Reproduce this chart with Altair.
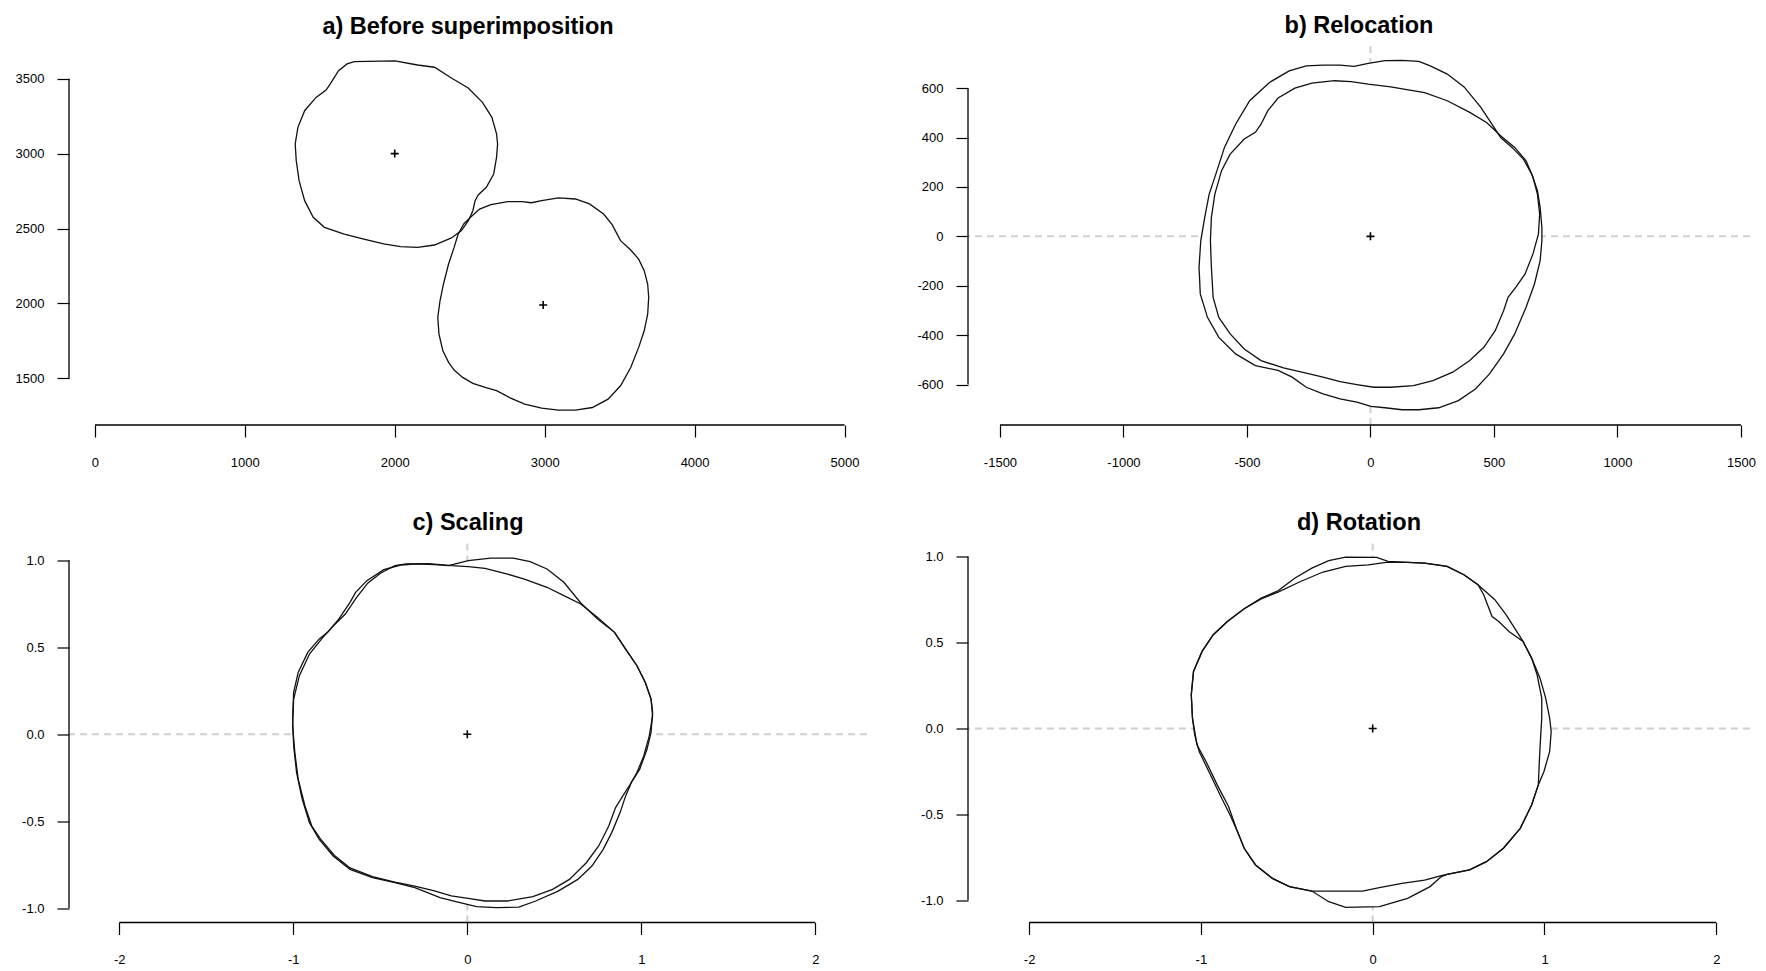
import altair as alt
import pandas as pd

FONT = "Liberation Sans"
W_L, W_R, H = 798, 782, 379

# ---------------- panel a: before superimposition ----------------
A1_X = [1730, 2001, 2152, 2265, 2378, 2490, 2585, 2648, 2679, 2686, 2679, 2660, 2611, 2558, 2536, 2521, 2491, 2445,
        2378, 2265, 2152, 2039, 1926, 1794, 1663, 1531, 1456, 1399, 1362, 1343, 1336, 1354, 1399, 1475, 1542, 1569,
        1625, 1682]
A1_Y = [3613, 3618, 3591, 3576, 3504, 3438, 3342, 3242, 3131, 3064, 2975, 2864, 2775, 2726, 2686, 2619, 2552, 2486,
        2437, 2390, 2374, 2379, 2397, 2430, 2463, 2508, 2575, 2686, 2819, 2953, 3064, 3175, 3286, 3375, 3424, 3464,
        3553, 3598]
A2_X = [2460, 2509, 2566, 2641, 2754, 2848, 2912, 2980, 3092, 3205, 3299, 3393, 3450, 3506, 3574, 3627, 3664, 3687,
        3694, 3687, 3664, 3627, 3574, 3506, 3423, 3318, 3205, 3092, 2980, 2867, 2773, 2679, 2603, 2521, 2453, 2396,
        2359, 2321, 2295, 2287, 2302, 2325, 2359, 2396, 2423]
A2_Y = [2530, 2579, 2630, 2659, 2679, 2679, 2672, 2686, 2704, 2697, 2664, 2597, 2526, 2419, 2357, 2296, 2219, 2130,
        2041, 1929, 1818, 1707, 1573, 1451, 1362, 1306, 1289, 1289, 1302, 1329, 1369, 1418, 1440, 1467, 1507, 1556,
        1607, 1685, 1796, 1907, 2018, 2130, 2263, 2374, 2463]
A_CX = [2000, 2990]
A_CY = [3000, 1990]
A_XTICKS = [0, 1000, 2000, 3000, 4000, 5000]
A_YTICKS = [1500, 2000, 2500, 3000, 3500]

# ---------------- panel b: relocation ----------------
B1_X = [-66, -9, 59, 128, 196, 242, 311, 379, 447, 505, 527, 573, 619, 653, 676, 687, 694, 694, 687, 664, 630, 584,
        539, 482, 425, 356, 276, 196, 128, 59, 2, -55, -123, -192, -260, -317, -374, -466, -546, -614, -660, -689,
        -694, -687, -671, -653, -626, -591, -546, -489, -409, -329, -260, -192, -123]
B1_Y = [688, 700, 711, 712, 708, 690, 657, 605, 522, 434, 400, 360, 313, 252, 185, 117, 36, -18, -98, -193, -287,
        -395, -476, -557, -618, -665, -694, -702, -702, -694, -688, -671, -658, -638, -611, -570, -543, -523, -476,
        -409, -328, -233, -125, -18, 77, 171, 252, 360, 454, 549, 623, 670, 690, 693, 693]
B2_X = [-146, -78, -9, 82, 219, 311, 402, 470, 527, 584, 630, 658, 676, 685, 680, 658, 626, 589, 557, 539, 505, 459,
        402, 333, 253, 174, 82, 14, -55, -123, -192, -260, -352, -443, -511, -568, -614, -637, -644, -648, -644,
        -630, -603, -568, -511, -466, -443, -416, -374, -306, -237]
B2_Y = [630, 626, 616, 605, 582, 549, 502, 461, 407, 360, 306, 239, 171, 90, 9, -71, -152, -206, -247, -301, -382,
        -449, -503, -550, -584, -604, -611, -611, -600, -588, -570, -554, -533, -503, -456, -395, -328, -247, -125,
        -18, 77, 171, 266, 333, 394, 421, 454, 508, 560, 600, 620]
B_XTICKS = [-1500, -1000, -500, 0, 500, 1000, 1500]
B_YTICKS = [-600, -400, -200, 0, 200, 400, 600]

# ---------------- panel c: scaling ----------------
C1_X = [-0.108, 0.005, 0.134, 0.264, 0.361, 0.458, 0.555, 0.652, 0.749, 0.846, 0.910, 0.975, 1.023, 1.056, 1.065,
        1.056, 1.033, 0.991, 0.943, 0.910, 0.878, 0.830, 0.781, 0.716, 0.635, 0.522, 0.393, 0.296, 0.167, 0.053,
        -0.060, -0.157, -0.254, -0.302, -0.416, -0.545, -0.674, -0.771, -0.852, -0.907, -0.949, -0.981, -0.998,
        -1.004, -0.998, -0.972, -0.917, -0.852, -0.803, -0.739, -0.674, -0.642, -0.577, -0.480, -0.383, -0.286,
        -0.189]
C1_Y = [0.969, 0.998, 1.013, 1.013, 0.992, 0.950, 0.874, 0.755, 0.663, 0.586, 0.490, 0.394, 0.298, 0.202, 0.126,
        0.011, -0.085, -0.200, -0.277, -0.354, -0.450, -0.565, -0.661, -0.757, -0.834, -0.901, -0.958, -0.993,
        -0.996, -0.990, -0.963, -0.938, -0.900, -0.881, -0.852, -0.824, -0.776, -0.699, -0.603, -0.508, -0.373,
        -0.220, -0.066, 0.087, 0.241, 0.356, 0.471, 0.547, 0.586, 0.662, 0.758, 0.816, 0.883, 0.946, 0.973, 0.979,
        0.975]
C2_X = [-0.416, -0.351, -0.222, -0.092, 0.005, 0.102, 0.231, 0.328, 0.458, 0.555, 0.652, 0.749, 0.846, 0.910, 0.975,
        1.023, 1.056, 1.065, 1.046, 1.014, 0.975, 0.936, 0.894, 0.852, 0.813, 0.755, 0.684, 0.587, 0.490, 0.377,
        0.231, 0.102, 0.005, -0.092, -0.189, -0.302, -0.416, -0.545, -0.674, -0.765, -0.843, -0.894, -0.933,
        -0.972, -0.991, -1.004, -0.998, -0.965, -0.907, -0.830, -0.765, -0.701, -0.636, -0.571, -0.497]
C2_Y = [0.969, 0.979, 0.981, 0.969, 0.964, 0.954, 0.921, 0.892, 0.845, 0.797, 0.749, 0.672, 0.586, 0.490, 0.394,
        0.298, 0.202, 0.106, -0.009, -0.124, -0.220, -0.287, -0.354, -0.421, -0.527, -0.642, -0.738, -0.834,
        -0.891, -0.933, -0.958, -0.958, -0.943, -0.929, -0.900, -0.872, -0.849, -0.818, -0.768, -0.695, -0.603,
        -0.527, -0.412, -0.258, -0.105, 0.049, 0.202, 0.337, 0.461, 0.557, 0.628, 0.691, 0.787, 0.870, 0.927]
C_XTICKS = [-2, -1, 0, 1, 2]
C_YTICKS = [-1.0, -0.5, 0.0, 0.5, 1.0]

# ---------------- panel d: rotation ----------------
D1_X = [-0.551, -0.452, -0.354, -0.256, -0.157, 0.023, 0.089, 0.203, 0.302, 0.433, 0.531, 0.613, 0.646, 0.695,
        0.734, 0.793, 0.875, 0.925, 0.957, 0.984, 0.984, 0.977, 0.970, 0.964, 0.925, 0.859, 0.761, 0.662, 0.564,
        0.433, 0.400, 0.302, 0.170, 0.039, -0.059, -0.354, -0.485, -0.584, -0.682, -0.748, -0.787, -0.830, -0.879,
        -0.944, -1.010, -1.036, -1.049, -1.056, -1.043, -0.993, -0.928, -0.846, -0.748, -0.649]
D1_Y = [0.802, 0.876, 0.934, 0.977, 0.998, 0.996, 0.973, 0.967, 0.963, 0.944, 0.895, 0.837, 0.779, 0.652, 0.623,
        0.565, 0.507, 0.410, 0.313, 0.177, 0.060, -0.056, -0.192, -0.328, -0.445, -0.581, -0.697, -0.775, -0.823,
        -0.849, -0.856, -0.882, -0.901, -0.926, -0.946, -0.946, -0.920, -0.872, -0.794, -0.697, -0.600, -0.503,
        -0.406, -0.270, -0.134, -0.037, 0.060, 0.196, 0.332, 0.449, 0.546, 0.623, 0.697, 0.759]
D2_X = [-0.551, -0.420, -0.289, -0.157, -0.026, 0.089, 0.203, 0.302, 0.433, 0.531, 0.613, 0.711, 0.777, 0.826,
        0.875, 0.925, 0.974, 1.007, 1.030, 1.039, 1.030, 0.997, 0.964, 0.925, 0.859, 0.761, 0.662, 0.564, 0.433,
        0.400, 0.334, 0.203, 0.039, -0.157, -0.256, -0.354, -0.485, -0.584, -0.682, -0.748, -0.787, -0.839, -0.905,
        -0.970, -1.023, -1.049, -1.056, -1.043, -0.993, -0.928, -0.846, -0.748, -0.649]
D2_Y = [0.794, 0.856, 0.911, 0.944, 0.953, 0.969, 0.967, 0.963, 0.944, 0.895, 0.837, 0.750, 0.662, 0.584, 0.507,
        0.410, 0.293, 0.177, 0.060, -0.017, -0.134, -0.250, -0.328, -0.445, -0.581, -0.697, -0.775, -0.823, -0.849,
        -0.862, -0.920, -0.988, -1.037, -1.041, -1.008, -0.946, -0.920, -0.872, -0.794, -0.697, -0.600, -0.454,
        -0.328, -0.192, -0.095, 0.060, 0.196, 0.332, 0.449, 0.546, 0.623, 0.697, 0.755]
D_XTICKS = [-2, -1, 0, 1, 2]
D_YTICKS = [-1.0, -0.5, 0.0, 0.5, 1.0]

# scale domains (data units visible in each plot region)
A_XDOM, A_YDOM = [-172.8, 5150.0], [1189.3, 3717.7]
B_XDOM, B_YDOM = [-1629.4, 1536.6], [-763.8, 770.6]
C_XDOM, C_YDOM = [-2.289, 2.297], [-1.0816, 1.0966]
D_XDOM, D_YDOM = [-2.3556, 2.1962], [-1.129, 1.077]


def lbl(fmt):
    return f"datum.value < 0 ? '-' + format(-datum.value, '{fmt}') : format(datum.value, '{fmt}')"


def panel(title, shapes, centers, xdom, ydom, xticks, yticks, fx, fy, dashed, width):
    rows = []
    for name, xs, ys in shapes:
        for i, (a, b) in enumerate(zip(xs, ys)):
            rows.append({"shape": name, "i": i, "x": a, "y": b})
    df = pd.DataFrame(rows)
    cdf = pd.DataFrame({"x": centers[0], "y": centers[1]})

    xs = alt.Scale(domain=xdom, nice=False, zero=False)
    ys = alt.Scale(domain=ydom, nice=False, zero=False)
    xax = alt.Axis(values=xticks, labelExpr=lbl(fx), domain=False, grid=False, tickSize=12, tickColor="black",
                   tickWidth=1.2, labelPadding=29, labelBaseline="alphabetic", labelFont=FONT, labelFontSize=13,
                   labelColor="black", labelFlush=False, labelOverlap=False, labelBound=False, title=None)
    yax = alt.Axis(values=yticks, labelExpr=lbl(fy), domain=False, grid=False, tickSize=12, tickColor="black",
                   tickWidth=1.2, labelPadding=13, labelFont=FONT, labelFontSize=13, labelColor="black",
                   labelFlush=False, labelOverlap=False, labelBound=False, title=None)

    def X(f):
        return alt.X(f, type="quantitative", scale=xs, axis=xax, title=None)

    def Y(f):
        return alt.Y(f, type="quantitative", scale=ys, axis=yax, title=None)

    layers = []
    if dashed:
        zdf = pd.DataFrame({"z": [0]})
        layers.append(alt.Chart(zdf).mark_rule(strokeDash=[7, 5], color="#d0d0d0", strokeWidth=2).encode(x=X("z")))
        layers.append(alt.Chart(zdf).mark_rule(strokeDash=[7, 5], color="#d0d0d0", strokeWidth=2).encode(y=Y("z")))

    layers.append(alt.Chart(df).mark_line(interpolate="linear-closed", fill="white", strokeOpacity=0).encode(
        x=X("x"), y=Y("y"), detail="shape:N", order="i:Q"))
    layers.append(alt.Chart(df).mark_line(interpolate="linear-closed", color="#111111", strokeWidth=1.3).encode(
        x=X("x"), y=Y("y"), detail="shape:N", order="i:Q"))

    layers.append(alt.Chart(cdf).mark_point(shape="M-1,0L1,0M0,-1L0,1", size=64, filled=False, color="black",
                                            strokeWidth=1.6, opacity=1).encode(x=X("x"), y=Y("y")))

    # axis lines spanning first to last tick, as R draws them
    xl = pd.DataFrame({"a": [xticks[0]], "b": [xticks[-1]], "c": [ydom[0]]})
    yl = pd.DataFrame({"a": [yticks[0]], "b": [yticks[-1]], "c": [xdom[0]]})
    layers.append(alt.Chart(xl).mark_rule(color="black", strokeWidth=1.3).encode(
        x=X("a"), x2=alt.X2("b"), y=Y("c")))
    layers.append(alt.Chart(yl).mark_rule(color="black", strokeWidth=1.3).encode(
        y=Y("a"), y2=alt.Y2("b"), x=X("c")))

    return alt.layer(*layers).properties(
        width=width, height=H,
        title=alt.TitleParams(text=title, font=FONT, fontSize=23.5, fontWeight="bold", color="black",
                              anchor="middle", frame="group", offset=12, dy=23, baseline="alphabetic"))


pa = panel("a) Before superimposition", [("s1", A1_X, A1_Y), ("s2", A2_X, A2_Y)], (A_CX, A_CY),
           A_XDOM, A_YDOM, A_XTICKS, A_YTICKS, "d", "d", False, W_L)
pb = panel("b) Relocation", [("s1", B1_X, B1_Y), ("s2", B2_X, B2_Y)], ([0], [0]),
           B_XDOM, B_YDOM, B_XTICKS, B_YTICKS, "d", "d", True, W_R)
pc = panel("c) Scaling", [("s1", C1_X, C1_Y), ("s2", C2_X, C2_Y)], ([0], [0]),
           C_XDOM, C_YDOM, C_XTICKS, C_YTICKS, "d", ".1f", True, W_L)
pd_ = panel("d) Rotation", [("s1", D1_X, D1_Y), ("s2", D2_X, D2_Y)], ([0], [0]),
            D_XDOM, D_YDOM, D_XTICKS, D_YTICKS, "d", ".1f", True, W_R)

chart = alt.concat(pa, pb, pc, pd_, columns=2, bounds="flush", spacing={"row": 118.5, "column": 101}).properties(
    padding={"left": 7, "top": 5, "right": 0, "bottom": 0}, background="white"
).configure_view(strokeWidth=0, stroke="transparent")

chart.save("out.html", embed_options={"renderer": "svg", "actions": False})
